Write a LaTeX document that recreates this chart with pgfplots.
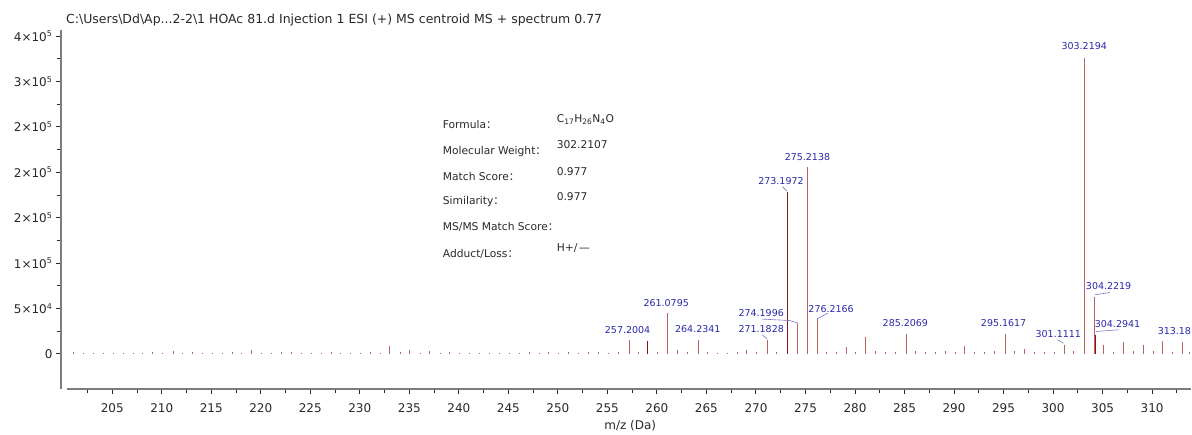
\documentclass[border=0pt]{standalone}
\usepackage{pgfplots}
\pgfplotsset{compat=1.18}
\usepackage{fontspec}
\setmainfont{DejaVu Sans}
\newfontfamily\cjk{Noto Sans CJK SC}

\definecolor{peak}{RGB}{188,98,98}
\definecolor{peakdark}{RGB}{135,20,20}
\definecolor{lbl}{RGB}{40,40,170}
\definecolor{lead}{RGB}{120,120,200}
\definecolor{axisgray}{RGB}{125,125,125}
\definecolor{txt}{RGB}{40,40,40}

% centroid peaks, m/z vs intensity
\pgfplotstableread{
mz intensity
201.06 1500
202.07 1000
203.08 1000
204.09 1000
205.10 1200
206.10 1000
207.10 1200
208.10 1000
209.10 1500
210.10 1000
211.15 3000
212.10 1000
213.10 2000
214.10 1000
215.10 1200
216.10 1000
217.10 1500
218.10 1000
219.07 4500
220.10 1200
221.10 1000
222.10 1500
223.10 1500
224.10 1000
225.10 1200
226.10 1000
227.10 1500
228.10 1000
229.10 1200
230.10 1000
231.10 1500
232.10 1000
233.00 8500
234.10 1500
235.04 4500
236.10 1200
237.06 3000
238.10 1000
239.10 1500
240.10 1000
241.10 1200
242.10 1000
243.10 1200
244.10 1000
245.10 1200
246.10 1000
247.10 1500
248.10 1000
249.10 1500
250.10 1000
251.10 1500
252.10 1000
253.10 1500
254.10 2500
255.10 1200
256.10 2500
257.20 15400
258.10 2000
260.10 1500
261.08 44800
262.10 4000
263.10 2000
264.23 15400
265.10 2500
266.10 1000
267.10 1200
268.10 1500
269.00 4500
270.10 1500
271.18 15400
272.10 2000
274.20 33800
275.21 206000
276.22 38200
277.10 2500
278.10 2000
279.10 7000
280.10 2500
281.10 19000
282.10 3500
283.10 2500
284.10 2000
285.21 22300
286.10 3500
287.10 2500
288.10 1500
289.10 3000
290.10 1500
291.10 8400
292.10 2500
293.10 2000
294.10 3000
295.16 22300
296.10 3000
297.10 5800
298.10 1500
299.10 1500
300.10 2500
301.11 10200
302.10 3000
303.22 326000
304.22 63100
305.10 10200
306.10 2500
307.10 12600
308.10 3500
309.10 10200
310.10 3000
311.10 13900
312.10 2500
313.10 12600
313.80 2000
}\peaks

\pgfplotstableread{
mz intensity
259.08 14300
273.20 178400
304.29 20900
}\darkpeaks

\begin{document}
\begin{tikzpicture}
\begin{axis}[
  scale only axis, width=1125pt, height=359pt,
  xmin=200.43, xmax=313.95, ymin=-38546, ymax=356800,
  axis lines=left,
  axis line style={axisgray, line width=1.6pt, -},
  axis y line shift=6pt,
  xtick distance=5, minor x tick num=1,
  ytick={0,50000,100000,150000,200000,250000,300000,350000},
  yticklabels={0, 5×10\textsuperscript{4}, 1×10\textsuperscript{5}, 2×10\textsuperscript{5}, 2×10\textsuperscript{5}, 2×10\textsuperscript{5}, 3×10\textsuperscript{5}, 4×10\textsuperscript{5}},
  scaled y ticks=false,
  minor y tick num=1,
  tick align=outside, major tick length=5pt, minor tick length=4pt,
  tick style={txt, line width=0.9pt},
  /pgf/number format/assume math mode=true,
  ticklabel style={font=\fontsize{12}{14}\selectfont, text=txt},
  xticklabel style={yshift=-6pt},
  xlabel={m/z (Da)},
  xlabel style={font=\fontsize{12}{14}\selectfont, text=txt, at={(axis description cs:0.501,0)}, anchor=north, yshift=-28pt},
  clip=false,
]
\addplot[ycomb, no marks, peak, line width=1pt] table[x=mz, y=intensity] {\peaks};
\addplot[ycomb, no marks, peakdark, line width=1pt] table[x=mz, y=intensity] {\darkpeaks};

% peak labels
\begin{scope}[every node/.style={font=\fontsize{9.5}{11}\selectfont, text=lbl, inner sep=0pt}]
\node at (axis cs:303.15,339200) {303.2194};
\node at (axis cs:275.20,216960) {275.2138};
\node at (axis cs:272.53,189970) {273.1972};
\node at (axis cs:260.94,56170) {261.0795};
\node at (axis cs:257.04,26430) {257.2004};
\node at (axis cs:264.13,26980) {264.2341};
\node at (axis cs:270.53,44820) {274.1996};
\node at (axis cs:270.53,27530) {271.1828};
\node at (axis cs:277.59,49560) {276.2166};
\node at (axis cs:285.09,33810) {285.2069};
\node at (axis cs:295.01,33810) {295.1617};
\node at (axis cs:300.53,22030) {301.1111};
\node at (axis cs:305.61,74120) {304.2219};
\node at (axis cs:306.51,32710) {304.2941};
\node[anchor=east] at (axis cs:313.95,24560) {313.18};
\end{scope}

% leader lines
\begin{scope}[lead, line width=0.6pt]
\draw (axis cs:272.70,184000) -- (axis cs:273.15,179000);
\draw (axis cs:270.63,38210) -- (axis cs:273.39,36670) -- (axis cs:274.23,33800);
\draw (axis cs:270.63,20920) -- (axis cs:271.14,16190);
\draw (axis cs:276.14,38210) -- (axis cs:277.25,44820);
\draw (axis cs:300.44,15420) -- (axis cs:301.06,11780);
\draw (axis cs:304.23,64980) -- (axis cs:305.74,67510);
\draw (axis cs:304.33,24560) -- (axis cs:306.61,26430);
\end{scope}

% title
\node[anchor=west, inner sep=0pt, text=txt, font=\fontsize{12.5}{14}\selectfont]
  at (axis cs:200.33,368000) {C:\textbackslash Users\textbackslash Dd\textbackslash Ap...2-2\textbackslash 1 HOAc 81.d Injection 1 ESI (+) MS centroid MS + spectrum 0.77};

% compound info
\begin{scope}[every node/.style={anchor=west, inner sep=0pt, text=txt, font=\fontsize{10.7}{12}\selectfont}]
\node at (axis cs:238.37,252200) {Formula{\cjk ：}};
\node at (axis cs:238.37,222800) {Molecular Weight{\cjk ：}};
\node at (axis cs:238.37,195300) {Match Score{\cjk ：}};
\node at (axis cs:238.37,167700) {Similarity{\cjk ：}};
\node at (axis cs:238.37,139500) {MS/MS Match Score{\cjk ：}};
\node at (axis cs:238.37,110100) {Adduct/Loss{\cjk ：}};
\node at (axis cs:249.87,257700) {C\textsubscript{17}H\textsubscript{26}N\textsubscript{4}O};
\node at (axis cs:249.87,230200) {302.2107};
\node at (axis cs:249.87,200800) {0.977};
\node at (axis cs:249.87,173200) {0.977};
\node at (axis cs:249.87,116400) {H+/\,—};
\end{scope}

% page extent
\path (axis cs:193.67,-89200) rectangle (axis cs:313.95,389860);
\end{axis}
\end{tikzpicture}
\end{document}
